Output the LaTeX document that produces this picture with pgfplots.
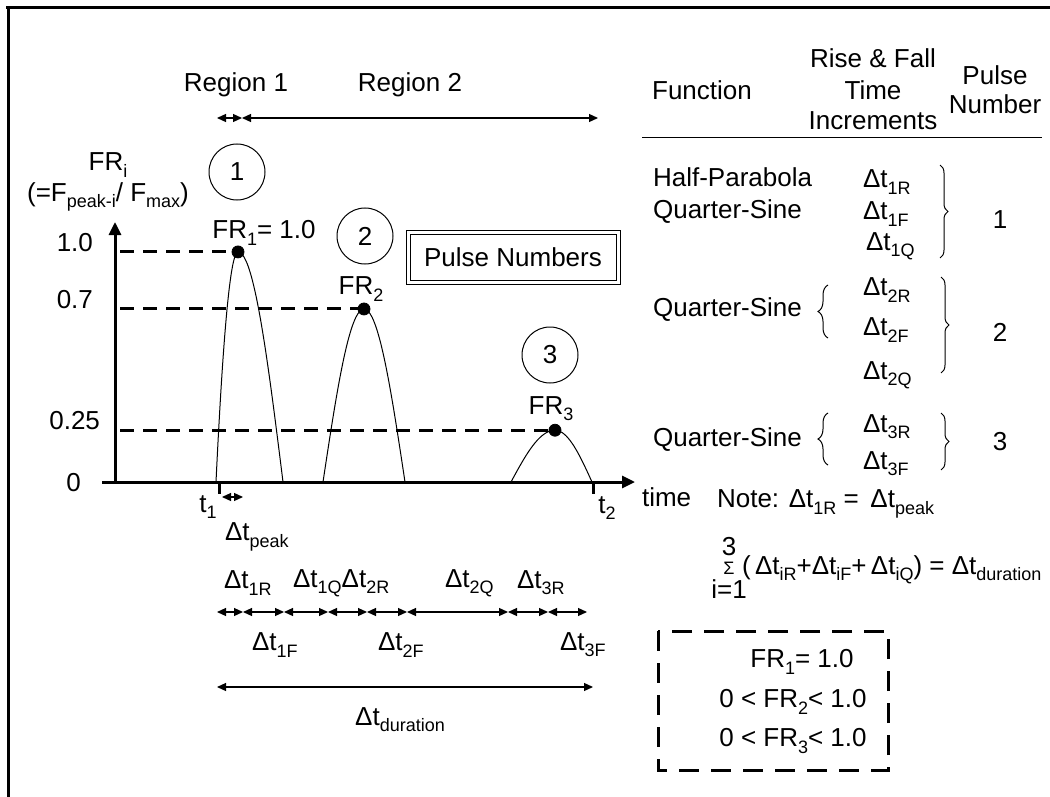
\documentclass[border=0pt]{standalone}
\usepackage{pgfplots}
\pgfplotsset{compat=1.18}
\usepackage{fontspec}
\setmainfont{Liberation Sans}
\usetikzlibrary{arrows.meta,decorations.pathreplacing}

\newcommand{\sub}[1]{\raisebox{-0.45ex}{\fontsize{9}{10}\selectfont #1}}
\newcommand{\dt}[1]{Δt\sub{#1}}

\begin{document}
\begin{tikzpicture}[font=\fontsize{13}{15}\selectfont]
% pulses: time in px from the y axis, FR as drawn
\begin{axis}[
    scale only axis, width=266.5pt, height=130pt,
    at={(51pt,-241pt)}, anchor=south west,
    xmin=-13, xmax=520, ymin=0, ymax=1.13,
    axis lines=middle, enlargelimits=false, clip=false,
    xtick=\empty, ytick=\empty,
    axis line style={line width=1.5pt},
    x axis line style={-{Triangle[length=6.5pt,width=6pt]}},
    y axis line style={-{Triangle[length=6.5pt,width=6pt]}},
]
% dashed levels
\addplot[line width=1.5pt, dash pattern=on 7pt off 4.5pt] coordinates {(5,1) (123,1)};
\addplot[line width=1.5pt, dash pattern=on 7pt off 4.5pt] coordinates {(5,0.752) (249,0.752)};
\addplot[line width=1.5pt, dash pattern=on 7pt off 4.5pt] coordinates {(5,0.225) (440,0.225)};
% pulse 1: half-parabola rise, quarter-sine fall
\addplot[line width=0.5pt, smooth] coordinates {
 (101,0) (101.44,0.0396) (102.1,0.0975) (103.2,0.19) (105.4,0.36) (107.6,0.51)
 (109.8,0.64) (112,0.75) (114.2,0.84) (116.4,0.91) (118.6,0.96) (120.8,0.99) (123,1)
 (127.5,0.9877) (132,0.9511) (136.5,0.8910) (141,0.8090) (145.5,0.7071) (150,0.5878)
 (154.5,0.4540) (159,0.3090) (163.5,0.1564) (168,0)};
% pulse 2
\addplot[line width=0.5pt, smooth] coordinates {
 (208,0) (212.1,0.1176) (216.2,0.2324) (220.3,0.3414) (224.4,0.4420) (228.5,0.5317)
 (232.6,0.6084) (236.7,0.6700) (240.8,0.7152) (244.9,0.7428) (249,0.752)
 (253.1,0.7428) (257.2,0.7152) (261.3,0.6700) (265.4,0.6084) (269.5,0.5317)
 (273.6,0.4420) (277.7,0.3414) (281.8,0.2324) (285.9,0.1176) (290,0)};
% pulse 3
\addplot[line width=0.5pt, smooth] coordinates {
 (396,0) (400.4,0.0352) (404.8,0.0695) (409.2,0.1022) (413.6,0.1323) (418,0.1591)
 (422.4,0.1820) (426.8,0.2005) (431.2,0.2140) (435.6,0.2222) (440,0.225)
 (443.7,0.2222) (447.4,0.2140) (451.1,0.2005) (454.8,0.1820) (458.5,0.1591)
 (462.2,0.1323) (465.9,0.1022) (469.6,0.0695) (473.3,0.0352) (477,0)};
% peaks
\addplot[only marks, mark=*, mark size=3pt] coordinates {(123,1) (249,0.752) (440,0.225)};
\end{axis}

\begin{scope}[x=0.5pt, y=-0.5pt]
\useasboundingbox (0,0) rectangle (1050,797);
% frame
\draw[line width=1.5pt] (6,8) -- (1050,8);
\draw[line width=1.5pt] (8,8) -- (8,797);

\tikzset{dar/.style={line width=0.6pt,
   {Triangle[length=4.5pt,width=4pt]}-{Triangle[length=4.5pt,width=4pt]}}}

% regions
\node at (236,85) {Region 1};
\node at (410,85) {Region 2};
\draw[dar] (217,118) -- (242,118);
\draw[dar] (242,118) -- (598,118);

% axis labels
\node at (108,165) {FR\sub{i}};
\node at (108,197) {(=F\sub{peak-i}/ F\sub{max})};
\node[anchor=east] at (100,243) {1.0};
\node[anchor=east] at (100,300) {0.7};
\node[anchor=east] at (107,421) {0.25};
\node[anchor=east] at (88,483) {0};

% circles and peak labels
\node[draw, circle, line width=0.5pt, minimum size=28pt] at (237,172) {1};
\node[draw, circle, line width=0.5pt, minimum size=28pt] at (365,236) {2};
\node[draw, circle, line width=0.5pt, minimum size=28pt] at (550,355) {3};
\node at (264,233) {FR\sub{1}= 1.0};
\node at (361,289) {FR\sub{2}};
\node at (551,409) {FR\sub{3}};
\node[draw, double, double distance=1.5pt, line width=0.5pt,
      minimum width=105pt, minimum height=25pt] at (513,257) {Pulse Numbers};

% t1, t2
\draw[line width=1.5pt] (219,482) -- (219,494);
\draw[line width=1.5pt] (593,482) -- (593,494);
\draw[dar] (222,497) -- (243,497);
\node at (208,507) {t\sub{1}};
\node at (607,508) {t\sub{2}};
\node[anchor=west] at (635,497) {time};
\node[anchor=west] at (218,537) {\dt{peak}};

% increments
\node[anchor=west] at (217,583) {\dt{1R}};
\node[anchor=west] at (286,583) {\dt{1Q}\dt{2R}};
\node[anchor=west] at (438,583) {\dt{2Q}};
\node[anchor=west] at (510,583) {\dt{3R}};
\foreach \a/\b in {217/243, 243/284, 284/328, 328/367, 367/407, 407/508, 508/548, 548/587}
  \draw[dar] (\a,612) -- (\b,612);
\node[anchor=west] at (245,645) {\dt{1F}};
\node[anchor=west] at (371,645) {\dt{2F}};
\node[anchor=west] at (553,645) {\dt{3F}};
\draw[dar] (217,687) -- (593,687);
\node at (400,720) {\dt{duration}};

% table
\node at (702,90) {Function};
\node at (873,58) {Rise \& Fall};
\node at (873,90) {Time};
\node at (873,121) {Increments};
\node at (995,75) {Pulse};
\node at (995,104) {Number};
\draw[line width=0.5pt] (642,138) -- (1042,138);
\node[anchor=west] at (646,177) {Half-Parabola};
\node[anchor=west] at (646,212) {Quarter-Sine};
\node[anchor=west] at (646,310) {Quarter-Sine};
\node[anchor=west] at (646,440) {Quarter-Sine};
\node[anchor=west] at (856,182) {\dt{1R}};
\node[anchor=west] at (856,214) {\dt{1F}};
\node[anchor=west] at (859,246) {\dt{1Q}};
\node[anchor=west] at (856,290) {\dt{2R}};
\node[anchor=west] at (856,330) {\dt{2F}};
\node[anchor=west] at (856,375) {\dt{2Q}};
\node[anchor=west] at (856,427) {\dt{3R}};
\node[anchor=west] at (856,464) {\dt{3F}};
\draw[line width=0.5pt, decorate, decoration={brace, amplitude=4pt}] (940,165) -- (940,258);
\draw[line width=0.5pt, decorate, decoration={brace, amplitude=4pt}] (941,277) -- (941,373);
\draw[line width=0.5pt, decorate, decoration={brace, amplitude=4pt}] (941,413) -- (941,470);
\draw[line width=0.5pt, decorate, decoration={brace, amplitude=5pt}] (828,338) -- (828,285);
\draw[line width=0.5pt, decorate, decoration={brace, amplitude=5pt}] (828,465) -- (828,413);
\node at (1000,220) {1};
\node at (1000,332) {2};
\node at (1000,442) {3};

% notes
\node[anchor=west] at (710,504) {Note: \dt{1R} = \,\dt{peak}};
\node[inner sep=0pt] at (729,547) {3};
\node[inner sep=0pt] at (729,568) {\fontsize{9}{9}\selectfont Σ};
\node[inner sep=0pt] at (729,589) {i=1};
\node[anchor=west] at (735,570) {(\,\dt{iR}+\dt{iF}+\,\dt{iQ}) = \dt{duration}};
\draw[line width=1.5pt, dash pattern=on 10pt off 6pt] (658,631) rectangle (888,770);
\node at (802,662) {FR\sub{1}= 1.0};
\node at (793,702) {0 < FR\sub{2}< 1.0};
\node at (793,741) {0 < FR\sub{3}< 1.0};
\end{scope}
\end{tikzpicture}
\end{document}
